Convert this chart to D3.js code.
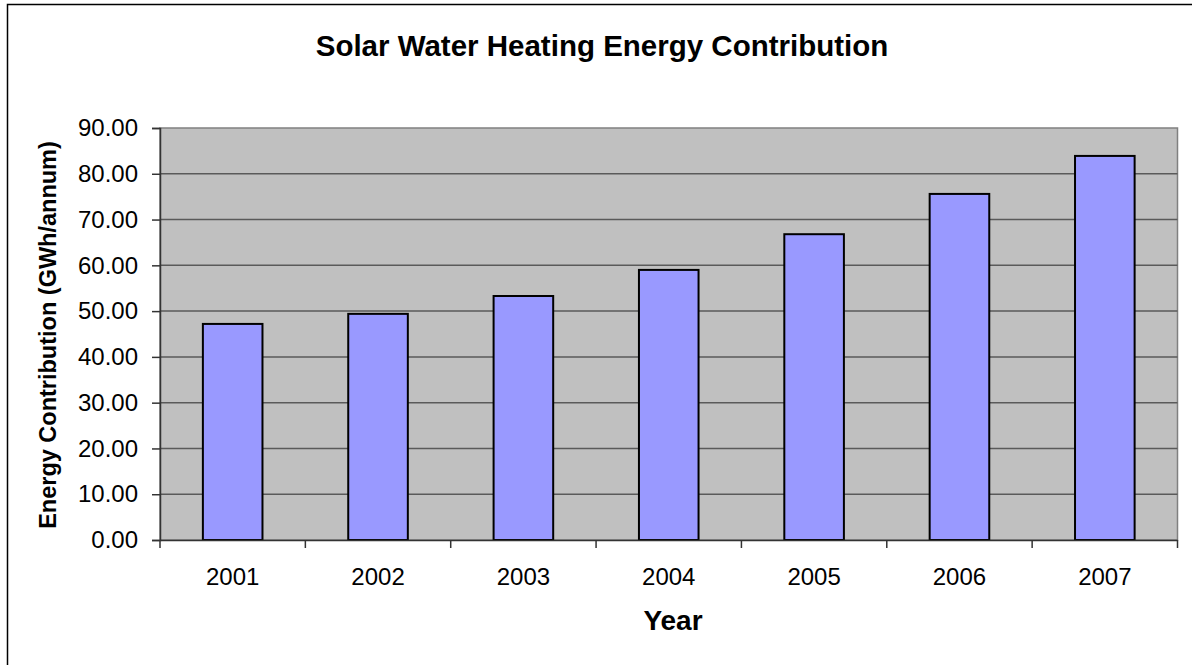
<!DOCTYPE html>
<html><head><meta charset="utf-8">
<script src="https://cdn.jsdelivr.net/npm/d3@7"></script>
<style>body{margin:0;background:#fff}svg{display:block}text{font-family:"Liberation Sans",Arial,sans-serif}</style>
</head><body>
<svg id="c" width="1192" height="665"></svg>
<script>
const years = ["2001","2002","2003","2004","2005","2006","2007"];
const values = [47.2, 49.4, 53.3, 59.0, 66.8, 75.6, 83.9];
const yTicks = [0,10,20,30,40,50,60,70,80,90];
const title = "Solar Water Heating Energy Contribution";
const xTitle = "Year";
const yTitle = "Energy Contribution (GWh/annum)";

const svg = d3.select("#c");
const L = 160, R = 1177.5, T = 128, B = 540;

svg.append("rect").attr("x",7.5).attr("y",4.5).attr("width",1200).attr("height",700)
  .attr("fill","#fff").attr("stroke","#000").attr("stroke-width",1.5);

const x = d3.scaleBand().domain(years).range([L,R]).paddingInner(0.59).paddingOuter(0.295);
const xb = d3.scaleBand().domain(years).range([L,R]);
const y = d3.scaleLinear().domain([0,90]).range([B,T]);

svg.append("rect").attr("x",L).attr("y",T).attr("width",R-L).attr("height",B-T)
  .attr("fill","#c0c0c0").attr("stroke","#808080").attr("stroke-width",1.5);

svg.append("g").selectAll("line").data(yTicks.filter(d=>d>0 && d<90)).join("line")
  .attr("x1",L).attr("x2",R).attr("y1",d=>y(d)).attr("y2",d=>y(d))
  .attr("stroke","#5a5a5a").attr("stroke-width",1.5);

svg.append("g").selectAll("rect").data(years).join("rect")
  .attr("x",d=>x(d)).attr("width",x.bandwidth())
  .attr("y",(d,i)=>y(values[i])).attr("height",(d,i)=>B-y(values[i]))
  .attr("fill","#9999ff").attr("stroke","#000").attr("stroke-width",2);

const ya = svg.append("g").attr("transform",`translate(${L},0)`)
  .call(d3.axisLeft(y).tickValues(yTicks).tickFormat(d3.format(".2f")).tickSize(8).tickPadding(14));
ya.select(".domain").attr("stroke","#333").attr("stroke-width",1.5);
ya.selectAll(".tick line").attr("stroke","#333").attr("stroke-width",1.5);
ya.selectAll("text").attr("font-size",24).attr("fill","#000").attr("font-family","Liberation Sans, Arial, sans-serif");

const xa = svg.append("g").attr("transform",`translate(0,${B})`)
  .call(d3.axisBottom(xb).tickSize(0).tickPadding(28));
xa.select(".domain").attr("stroke","#333").attr("stroke-width",1.5);
xa.selectAll("text").attr("font-size",24).attr("fill","#000").attr("font-family","Liberation Sans, Arial, sans-serif");
svg.append("g").selectAll("line").data(years.concat(["end"])).join("line")
  .attr("x1",(d,i)=>i<years.length?xb(d):R).attr("x2",(d,i)=>i<years.length?xb(d):R)
  .attr("y1",B).attr("y2",B+8).attr("stroke","#333").attr("stroke-width",1.5);

svg.append("text").attr("x",602).attr("y",56).attr("text-anchor","middle")
  .attr("font-size",29.5).attr("font-weight","bold").text(title);
svg.append("text").attr("x",673).attr("y",630).attr("text-anchor","middle")
  .attr("font-size",28).attr("font-weight","bold").text(xTitle);
svg.append("text").attr("transform","translate(56,335) rotate(-90)").attr("text-anchor","middle")
  .attr("font-size",23.5).attr("font-weight","bold").text(yTitle);
</script>
</body></html>
